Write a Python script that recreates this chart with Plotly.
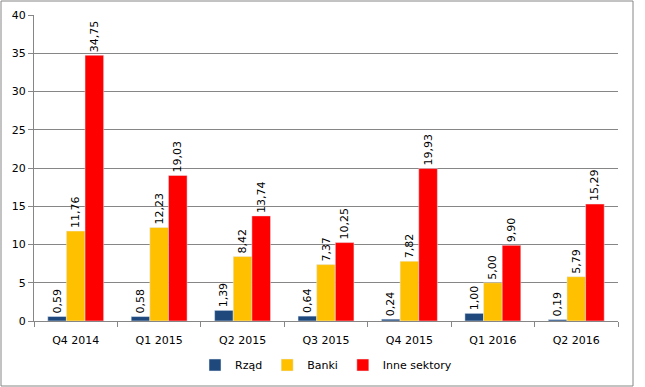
import plotly.graph_objects as go

categories = ["Q4 2014", "Q1 2015", "Q2 2015", "Q3 2015", "Q4 2015", "Q1 2016", "Q2 2016"]
rzad = [0.59, 0.58, 1.39, 0.64, 0.24, 1.00, 0.19]
banki = [11.76, 12.23, 8.42, 7.37, 7.82, 5.00, 5.79]
inne = [34.75, 19.03, 13.74, 10.25, 19.93, 9.90, 15.29]

series = [("Rząd", rzad, "#1F497D"), ("Banki", banki, "#FFC000"), ("Inne sektory", inne, "#FF0000")]

FONT = "DejaVu Sans"

fig = go.Figure()
for name, vals, color in series:
    fig.add_trace(go.Bar(
        x=categories, y=vals, name=name, marker_color=color,
        text=[f"{v:.2f}".replace(".", ",") for v in vals],
        textposition="outside", textangle=-90, constraintext="none",
        textfont=dict(family=FONT, size=11, color="black"),
        cliponaxis=False,
    ))

W, H = 645, 387
ml, mr, mt, mb = 34, 27, 15, 66
pw, ph = W - ml - mr, H - mt - mb

fig.update_layout(
    width=W, height=H,
    margin=dict(l=ml, r=mr, t=mt, b=mb, autoexpand=False),
    barmode="group", bargap=0.33, bargroupgap=0,
    plot_bgcolor="white", paper_bgcolor="white",
    font=dict(family=FONT, size=11, color="black"),
    showlegend=True,
    legend=dict(orientation="h", x=0.5, xanchor="center", y=(321 - 365) / ph, yanchor="middle",
                font=dict(family=FONT, size=11), itemwidth=30, traceorder="normal"),
)

fig.update_xaxes(
    showline=True, linecolor="#868686", linewidth=1,
    ticks="outside", tickson="boundaries", ticklen=5, tickcolor="#868686",
    ticklabelstandoff=9,
    tickfont=dict(family=FONT, size=11), showgrid=False, automargin=False,
)
fig.update_yaxes(
    range=[0, 40], dtick=5, showline=True, linecolor="#868686", linewidth=1,
    ticks="outside", ticklen=5, tickcolor="#868686",
    showgrid=True, gridcolor="#868686", gridwidth=1,
    tickfont=dict(family=FONT, size=11), zeroline=False, automargin=False,
)

fig.add_shape(type="rect", xref="paper", yref="paper",
              x0=(1 - ml) / pw, x1=(633 - ml) / pw,
              y0=(321 - 386) / ph, y1=(321 - 1) / ph,
              line=dict(color="#868686", width=1), fillcolor="rgba(0,0,0,0)", layer="below")

fig.write_html("out.html", config={"displayModeBar": False},
               post_script="document.body.style.margin='0';document.body.style.overflow='hidden';")
